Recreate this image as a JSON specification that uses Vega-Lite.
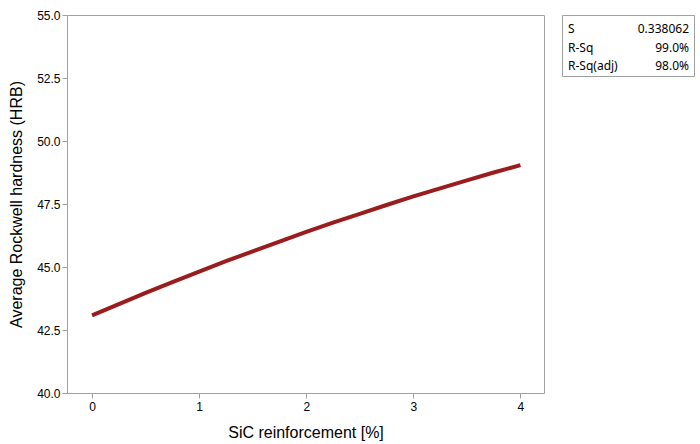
{
  "$schema": "https://vega.github.io/schema/vega-lite/v6.json",
  "background": "white",
  "padding": {"left": 8, "top": 8, "right": 5, "bottom": 5},
  "bounds": "flush",
  "spacing": 18,
  "config": {
    "view": {"stroke": "#a0a0a0", "strokeWidth": 1},
    "axis": {
      "labelFont": "Liberation Sans",
      "labelFontSize": 12,
      "labelColor": "#000000",
      "titleFont": "Liberation Sans",
      "titleFontSize": 16,
      "titleFontWeight": "normal",
      "titleColor": "#000000",
      "tickColor": "#a0a0a0",
      "tickSize": 5,
      "domain": false,
      "grid": false
    }
  },
  "hconcat": [
    {
      "width": 477,
      "height": 378,
      "data": {"values": [
        {"sic": 0, "hrb": 43.08},
        {"sic": 0.25, "hrb": 43.53},
        {"sic": 0.5, "hrb": 43.97},
        {"sic": 0.75, "hrb": 44.40},
        {"sic": 1, "hrb": 44.82},
        {"sic": 1.25, "hrb": 45.23},
        {"sic": 1.5, "hrb": 45.62},
        {"sic": 1.75, "hrb": 46.01},
        {"sic": 2, "hrb": 46.39},
        {"sic": 2.25, "hrb": 46.76},
        {"sic": 2.5, "hrb": 47.11},
        {"sic": 2.75, "hrb": 47.46},
        {"sic": 3, "hrb": 47.80},
        {"sic": 3.25, "hrb": 48.12},
        {"sic": 3.5, "hrb": 48.44},
        {"sic": 3.75, "hrb": 48.75},
        {"sic": 4, "hrb": 49.04}
      ]},
      "mark": {"type": "line", "color": "#9b1c1c", "strokeWidth": 4},
      "encoding": {
        "x": {
          "field": "sic", "type": "quantitative",
          "scale": {"domain": [-0.234, 4.22], "nice": false, "zero": false},
          "axis": {"values": [0, 1, 2, 3, 4], "title": "SiC reinforcement [%]", "labelPadding": 3, "titlePadding": 12}
        },
        "y": {
          "field": "hrb", "type": "quantitative",
          "scale": {"domain": [40, 55], "nice": false, "zero": false},
          "axis": {"values": [40, 42.5, 45, 47.5, 50, 52.5, 55], "format": ".1f", "title": "Average Rockwell hardness (HRB)", "labelPadding": 2, "titlePadding": 12}
        }
      }
    },
    {
      "width": 132,
      "height": 61,
      "data": {"values": [
        {"stat": "S", "val": "0.338062", "row": 0},
        {"stat": "R-Sq", "val": "99.0%", "row": 1},
        {"stat": "R-Sq(adj)", "val": "98.0%", "row": 2}
      ]},
      "encoding": {
        "y": {"field": "row", "type": "quantitative", "scale": {"domain": [-0.76, 2.54], "reverse": true, "nice": false, "zero": false}, "axis": null}
      },
      "layer": [
        {
          "mark": {"type": "text", "align": "left", "baseline": "middle", "font": "Noto Sans", "fontSize": 12, "color": "#000000", "dx": 6},
          "encoding": {
            "x": {"datum": 0, "type": "quantitative", "scale": {"domain": [0, 1], "nice": false, "zero": false}, "axis": null},
            "text": {"field": "stat"}
          }
        },
        {
          "mark": {"type": "text", "align": "right", "baseline": "middle", "font": "Noto Sans", "fontSize": 12, "color": "#000000", "dx": -5},
          "encoding": {
            "x": {"datum": 1, "type": "quantitative", "scale": {"domain": [0, 1], "nice": false, "zero": false}, "axis": null},
            "text": {"field": "val"}
          }
        }
      ]
    }
  ]
}
